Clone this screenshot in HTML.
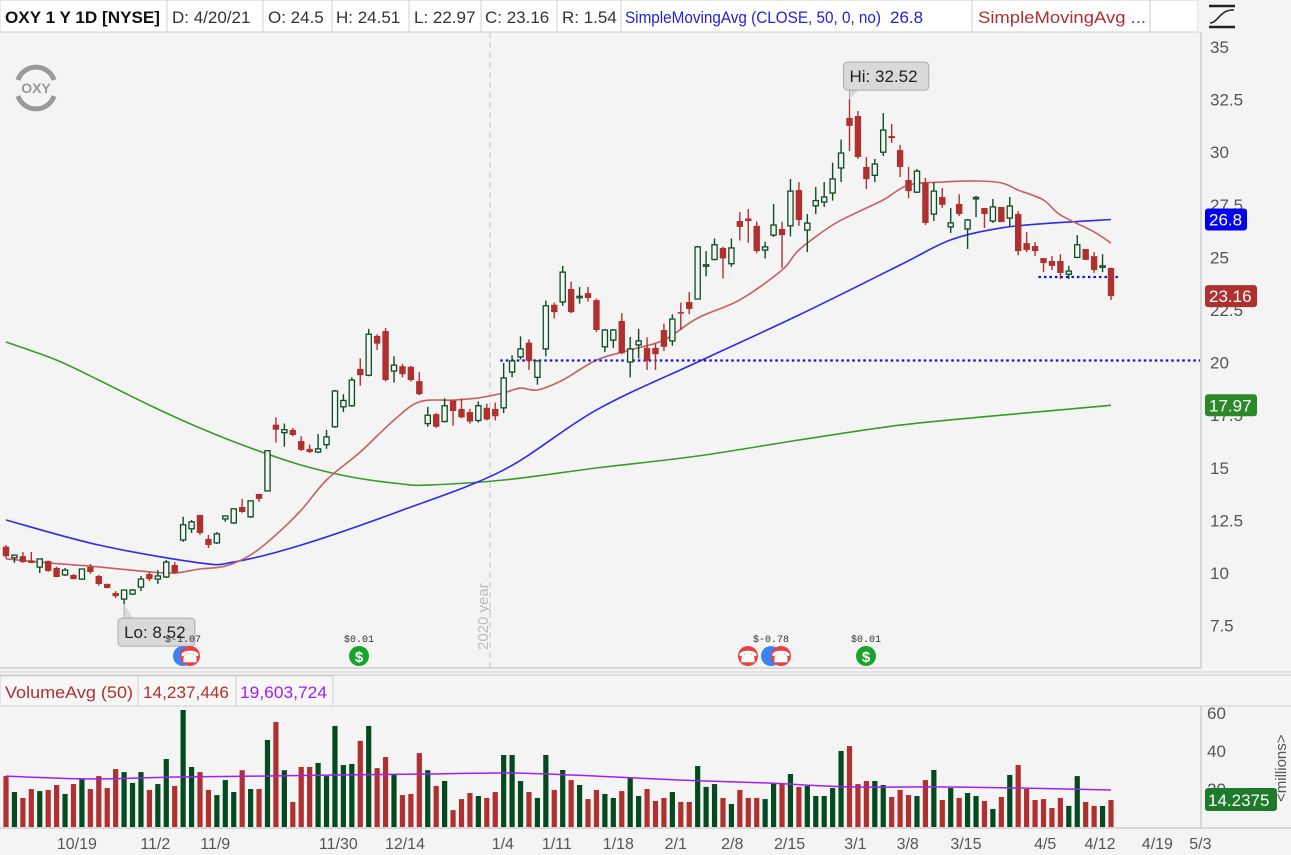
<!DOCTYPE html>
<html><head><meta charset="utf-8">
<style>
html,body{margin:0;padding:0;background:#f4f4f4;}
svg{display:block;font-family:"Liberation Sans",sans-serif;}
</style></head>
<body>
<svg id="chart" width="1291" height="855" viewBox="0 0 1291 855">
  <rect x="0" y="0" width="1291" height="855" fill="#f4f4f4"/>
  <g>
    <rect x="0" y="0" width="1198" height="32" fill="#ffffff" stroke="#cfcfcf"/>
    <rect x="1198" y="0" width="93" height="32" fill="#f4f4f4"/>
    <text x="5" y="23" font-size="17" font-weight="bold" fill="#111" textLength="155" lengthAdjust="spacingAndGlyphs">OXY 1 Y 1D [NYSE]</text>
    <line x1="167" y1="0" x2="167" y2="32" stroke="#cfcfcf"/>
    <text x="172" y="23" font-size="17" fill="#333">D: 4/20/21</text>
    <line x1="263" y1="0" x2="263" y2="32" stroke="#cfcfcf"/>
    <text x="268" y="23" font-size="17" fill="#333">O: 24.5</text>
    <line x1="332" y1="0" x2="332" y2="32" stroke="#cfcfcf"/>
    <text x="336" y="23" font-size="17" fill="#333">H: 24.51</text>
    <line x1="409" y1="0" x2="409" y2="32" stroke="#cfcfcf"/>
    <text x="414" y="23" font-size="17" fill="#333">L: 22.97</text>
    <line x1="481" y1="0" x2="481" y2="32" stroke="#cfcfcf"/>
    <text x="485" y="23" font-size="17" fill="#333">C: 23.16</text>
    <line x1="557" y1="0" x2="557" y2="32" stroke="#cfcfcf"/>
    <text x="562" y="23" font-size="17" fill="#333">R: 1.54</text>
    <line x1="621" y1="0" x2="621" y2="32" stroke="#cfcfcf"/>
    <text x="625" y="23" font-size="17" fill="#2222dd" textLength="256" lengthAdjust="spacingAndGlyphs">SimpleMovingAvg (CLOSE, 50, 0, no)</text>
    <text x="890" y="23" font-size="17" fill="#2222dd">26.8</text>
    <line x1="972" y1="0" x2="972" y2="32" stroke="#cfcfcf"/>
    <text x="978" y="23" font-size="17" fill="#b03030" textLength="168" lengthAdjust="spacingAndGlyphs">SimpleMovingAvg ...</text>
    <line x1="1150" y1="0" x2="1150" y2="32" stroke="#cfcfcf"/>
    <g stroke="#222" fill="none">
      <line x1="1209" y1="6" x2="1235" y2="6" stroke-width="2.5"/>
      <line x1="1209" y1="27" x2="1235" y2="27" stroke-width="2.5"/>
      <path d="M1210 23 C1218 23 1220 9 1234 10" stroke-width="1.5"/>
    </g>
  </g>
  <g>
    <path d="M18 80 A19 19 0 0 1 54 80" fill="none" stroke="#999" stroke-width="5"/>
    <path d="M18 96 A19 19 0 0 0 54 96" fill="none" stroke="#999" stroke-width="5"/>
    <text x="36" y="93" font-size="14" font-weight="bold" fill="#999" text-anchor="middle">OXY</text>
  </g>
  <line x1="1201" y1="32" x2="1201" y2="668" stroke="#bdbdbd"/>
  <line x1="0" y1="668" x2="1201" y2="668" stroke="#bdbdbd"/>
  <line x1="490" y1="32" x2="490" y2="668" stroke="#c4c4c4" stroke-dasharray="6,4"/>
  <text transform="translate(488,650) rotate(-90)" font-size="15" fill="#bbb">2020 year</text>
  <g id="price-axis"></g>
  <g id="price-lines"></g>
  <g id="candles"></g>
  <g id="tags"></g>
  <line x1="0" y1="672" x2="1291" y2="672" stroke="#cfcfcf"/>
  <line x1="0" y1="675" x2="1291" y2="675" stroke="#cfcfcf"/>
  <g>
    <rect x="0" y="676" width="333" height="30" fill="#f7f7f7" stroke="#cfcfcf"/>
    <text x="5" y="698" font-size="17" fill="#b03030" textLength="128" lengthAdjust="spacingAndGlyphs">VolumeAvg (50)</text>
    <line x1="138" y1="676" x2="138" y2="706" stroke="#cfcfcf"/>
    <text x="143" y="698" font-size="17" fill="#b03030" textLength="86" lengthAdjust="spacingAndGlyphs">14,237,446</text>
    <line x1="236" y1="676" x2="236" y2="706" stroke="#cfcfcf"/>
    <text x="240" y="698" font-size="17" fill="#a020f0" textLength="87" lengthAdjust="spacingAndGlyphs">19,603,724</text>
  </g>
  <line x1="0" y1="706" x2="1291" y2="706" stroke="#cfcfcf"/>
  <line x1="1201" y1="706" x2="1201" y2="828" stroke="#bdbdbd"/>
  <line x1="0" y1="828" x2="1291" y2="828" stroke="#bdbdbd"/>
  <g id="volume"></g>
  <g id="vol-axis"></g>
  <text transform="translate(1286,802) rotate(-90)" font-size="15" fill="#555">&lt;millions&gt;</text>
  <g id="x-axis"></g>
</svg>
<script>
const open  = [11.25,10.72,10.8,10.6,10.28,10.57,10.24,9.91,9.91,9.71,10.29,9.86,9.48,9.05,8.76,9.0,9.33,9.95,9.71,9.81,10.38,11.57,12.1,12.76,11.62,11.43,12.57,12.38,13.14,12.67,13.76,13.9,17.05,16.67,16.8,16.27,15.9,15.75,16.1,16.95,17.9,17.95,19.7,19.4,21.27,21.5,19.6,19.83,19.8,19.12,17.1,17.55,17.2,18.2,17.8,17.65,17.25,17.85,17.8,17.85,19.55,20.27,20.95,19.3,20.65,22.75,22.88,23.5,23.1,23.3,22.97,20.75,21.07,21.98,20.03,20.84,20.7,20.7,21.55,21.03,22.4,22.88,23.02,24.6,24.9,25.45,24.7,26.73,26.85,26.5,25.35,26.06,26.35,26.5,28.2,26.3,27.45,27.63,28.06,29.25,31.63,31.72,29.3,28.9,30.0,30.77,30.1,28.68,28.1,28.54,27.06,27.87,26.45,27.54,26.35,27.8,27.35,26.73,27.4,26.87,27.06,25.68,25.54,24.97,24.83,24.83,24.2,25.0,25.4,25.06,24.55,24.5];
const high  = [11.33,10.86,11.0,11.0,10.67,10.6,10.3,10.24,9.95,10.2,10.43,9.9,9.5,9.14,9.2,9.24,9.86,10.05,10.14,10.62,10.52,12.67,12.52,12.76,11.81,11.95,12.71,13.05,13.52,13.43,13.76,15.85,17.4,17.1,16.9,16.5,16.1,16.6,16.8,18.7,18.5,19.3,20.2,21.6,21.35,21.65,20.3,19.95,19.85,19.55,17.9,17.6,18.3,18.2,18.3,17.8,18.15,18.05,18.1,19.98,20.35,21.25,21.1,20.08,22.95,22.85,24.6,23.85,23.6,23.6,23.05,21.6,21.6,22.35,21.22,21.6,21.2,20.9,21.85,22.3,22.85,23.35,25.55,25.3,25.9,25.5,25.9,27.15,27.3,26.7,25.75,27.54,26.7,28.73,28.58,27.06,28.35,28.58,29.5,30.6,32.52,31.96,29.77,29.68,31.86,31.34,30.34,29.3,29.2,28.78,28.58,28.3,27.35,28.0,26.83,27.92,27.35,27.78,27.4,27.87,27.2,26.2,25.73,24.97,25.06,25.15,24.6,26.06,25.4,25.25,25.15,24.51];
const low   = [10.7,10.48,10.48,10.48,10.0,10.05,9.8,9.86,9.7,9.68,9.96,9.4,9.27,8.81,8.52,8.95,9.14,9.62,9.48,9.76,9.95,11.48,11.9,11.81,11.19,11.38,12.43,12.33,12.86,12.62,13.38,13.9,16.2,16.0,16.5,15.8,15.7,15.7,15.9,16.9,17.65,17.9,18.9,19.35,20.6,19.1,19.05,19.3,19.1,18.45,16.95,16.9,17.15,17.0,17.35,17.1,17.15,17.25,17.25,17.6,19.3,20.15,19.65,18.95,20.3,22.1,22.7,22.35,22.8,22.9,21.45,20.5,20.7,20.4,19.3,20.2,19.65,19.65,20.55,20.8,21.55,22.3,23.0,24.1,24.85,24.0,24.55,25.8,25.7,25.2,24.95,25.97,24.5,26.0,26.5,25.25,27.06,27.4,27.7,28.58,30.05,29.68,28.25,28.58,29.82,30.44,28.82,27.82,28.06,26.54,26.73,27.35,26.16,26.97,25.4,26.92,26.4,26.64,26.68,26.45,25.1,25.25,25.06,24.3,24.4,23.97,23.97,24.97,24.88,24.26,24.3,22.97];
const close = [10.8,10.85,10.52,10.48,10.67,10.1,9.81,10.14,9.71,10.19,10.05,9.48,9.29,8.9,9.19,9.19,9.71,9.71,9.86,10.52,10.0,12.29,12.43,11.9,11.33,11.86,12.71,13.05,12.9,13.43,13.52,15.81,16.81,16.81,16.56,15.85,15.75,15.9,16.47,18.65,18.2,19.17,19.4,21.35,20.9,19.17,19.88,19.45,19.17,18.5,17.5,16.95,17.95,17.7,17.4,17.2,17.95,17.3,17.45,19.27,20.08,20.65,20.08,20.08,22.7,22.4,24.3,22.4,23.15,23.07,21.55,21.55,21.55,20.45,20.65,21.03,20.08,20.4,20.75,22.07,22.35,22.55,25.5,24.65,25.6,24.95,25.45,26.45,26.73,25.3,25.5,26.54,26.06,28.15,26.78,26.63,27.7,27.87,28.73,29.96,31.25,29.77,28.72,29.44,31.05,30.67,29.3,28.15,29.1,26.64,28.15,27.5,26.64,27.06,26.78,27.85,27.06,27.4,26.68,27.44,25.3,25.35,25.3,24.73,24.6,24.26,24.35,25.6,24.88,24.4,24.6,23.16];
const volume = [26.8,18.4,15.3,20,18.9,19.5,22.1,17.4,22.6,25.3,20,26.8,20.5,30.5,28.9,23.2,28.9,19.5,22.6,35.8,21.6,61.6,31.6,28.9,19.5,16.8,24.7,18.4,29.9,20,20,45.8,55.3,29.9,13.2,31.6,31.6,33.7,26.8,53.2,32.6,33.2,45.3,53.2,31,36.8,27.4,16.8,17.4,38.9,29.9,21.6,24.2,8.9,14.7,17.9,16.3,15.3,18.4,
  37.9,37.9,24.2,18.4,15.3,37.9,19.5,30,24.7,22.1,14.7,19.5,17.4,15.3,18.9,25.8,16.3,20,13.7,15.3,18.4,13.2,13.2,32.1,21.1,22.6,15.3,12.1,19.5,15.3,15.3,14.7,23.2,22.6,27.9,21.1,
  21.6,16.3,16.3,20.5,40,42.6,22.6,24.2,24.2,22.1,15.8,19.5,16.8,16.3,24.7,30,14.2,20.5,15.3,17.9,16.3,13.7,9.5,15.8,27.4,32.6,20,14.2,14.7,10,15.3,11.1,26.8,13.2,11.1,11.1,14.2];
const volAvgIdx = [0,10,20,30,40,50,60,70,80,90,100,110,120,131];
const volAvgVal = [26.8,25.3,26.3,26.8,27.4,27.9,28.4,26.8,24.7,23.2,21.1,21.1,20.5,19.5];
const sma50Idx = [0,11,23,27,35,47,59,70,82,94,106,112,118,124,131];
const sma50Val = [12.52,11.33,10.48,10.52,11.33,12.99,14.9,17.75,20.03,22.26,24.64,25.83,26.4,26.63,26.8];
const sma20Idx = [0,5,11,17,20,23,26,29,32,35,38,42,46,49,53,56,59,61,63,66,70,74,78,82,87,92,94,98,101,104,107,111,115,118,120,123,125,129,131];
const sma20Val = [10.67,10.48,10.29,10.05,10.0,10.19,10.33,10.86,11.81,12.99,14.42,15.75,17.27,18.13,18.22,18.32,18.56,18.79,18.7,19.17,20.12,20.6,21.07,22.12,22.98,24.4,25.35,26.54,27.16,27.73,28.44,28.58,28.63,28.54,28.2,27.73,27.02,26.21,25.68];
const sma200Idx = [0,6,11,17,23,29,35,41,47,50,59,70,82,94,106,118,131];
const sma200Val = [20.98,20.12,19.17,17.98,16.89,15.94,15.13,14.56,14.23,14.18,14.42,14.99,15.56,16.32,17.03,17.5,17.97];
const priceTicks = [35,32.5,30,27.5,25,22.5,20,17.5,15,12.5,10,7.5];
const volTicks = [60,40,20];
const xTickLabels = ["10/19","11/2","11/9","11/30","12/14","1/4","1/11","1/18","2/1","2/8","2/15","3/1","3/8","3/15","4/5","4/12","4/19","5/3"];
const xTickIdx = [8.4,17.7,24.8,39.4,47.3,58.9,65.3,72.6,79.4,86.1,92.9,100.7,106.9,113.8,123.2,129.7,136.5,141.6];
const supportLevels = [20.1, 24.07];
const supportStartIdx = [58.6, 122.4];
const supportEndIdx = [141.6, 132];

const NS = "http://www.w3.org/2000/svg";
const xOf = i => 6 + i * 8.435;
const yP = v => 47 + (35 - v) * 21.04;
const yV = v => 827 - v * 1.9;
const GREEN = "#0b4d22", RED = "#b03030";
function mk(tag, attrs, parent) {
  const e = document.createElementNS(NS, tag);
  for (const k in attrs) e.setAttribute(k, attrs[k]);
  parent.appendChild(e);
  return e;
}
function smoothPath(pts) {
  let d = "M" + pts[0][0].toFixed(1) + " " + pts[0][1].toFixed(1);
  for (let k = 0; k < pts.length - 1; k++) {
    const p0 = pts[Math.max(0, k - 1)], p1 = pts[k], p2 = pts[k + 1], p3 = pts[Math.min(pts.length - 1, k + 2)];
    const c1 = [p1[0] + (p2[0] - p0[0]) / 6, p1[1] + (p2[1] - p0[1]) / 6];
    const c2 = [p2[0] - (p3[0] - p1[0]) / 6, p2[1] - (p3[1] - p1[1]) / 6];
    d += " C" + c1[0].toFixed(1) + " " + c1[1].toFixed(1) + " " + c2[0].toFixed(1) + " " + c2[1].toFixed(1) + " " + p2[0].toFixed(1) + " " + p2[1].toFixed(1);
  }
  return d;
}

const pAxis = document.getElementById("price-axis");
priceTicks.forEach(t => {
  const tx = mk("text", {x: 1210, y: yP(t) + 6, "font-size": 17, fill: "#555"}, pAxis);
  
  
  tx.textContent = String(t);
});

const pl = document.getElementById("price-lines");
function line(idx, val, color, name) {
  const pts = idx.map((i, k) => [xOf(i), yP(val[k])]);
  const p = mk("path", {d: smoothPath(pts), fill: "none", stroke: color, "stroke-width": 1.6}, pl);
  
  
}
line(sma200Idx, sma200Val, "#3a9a2a", "sma200-line");
line(sma50Idx, sma50Val, "#2b2bee", "sma50-line");
line(sma20Idx, sma20Val, "#c86060", "sma20-line");

supportLevels.forEach((lv, k) => {
  const s = mk("line", {x1: xOf(supportStartIdx[k]), x2: Math.min(1200, xOf(supportEndIdx[k])), y1: yP(lv), y2: yP(lv), stroke: "#1111dd", "stroke-width": 2.2, "stroke-dasharray": "2.5,3"}, pl);
  
  
});

const cg = document.getElementById("candles");
for (let i = 0; i < close.length; i++) {
  const up = close[i] >= open[i];
  const col = up ? GREEN : RED;
  const x = xOf(i);
  const g = mk("g", {}, cg);
  
  
  mk("line", {x1: x, x2: x, y1: yP(high[i]), y2: yP(low[i]), stroke: col, "stroke-width": 1.4}, g);
  const top = yP(Math.max(open[i], close[i])), bot = yP(Math.min(open[i], close[i]));
  const h = Math.max(1.5, bot - top);
  if (up) mk("rect", {x: x - 2.6, y: top, width: 5.2, height: h, fill: "#f4f4f4", stroke: col, "stroke-width": 1.3}, g);
  else mk("rect", {x: x - 3.2, y: top, width: 6.4, height: h, fill: col}, g);
}

const tg = document.getElementById("tags");
function tag(v, color, w, name) {
  const g = mk("g", {}, tg);
  
  
  mk("rect", {x: 1205, y: yP(v) - 11, width: w, height: 22, rx: 3, fill: color}, g);
  const t = mk("text", {x: 1209, y: yP(v) + 6, "font-size": 17, fill: "#fff"}, g);
  t.textContent = String(v);
}
tag(sma50Val[sma50Val.length - 1], "#0000ee", 42, "sma50-value-tag");
tag(close[close.length - 1], "#b03030", 52, "last-price-tag");
tag(sma200Val[sma200Val.length - 1], "#2a8a2a", 52, "sma200-value-tag");

function callout(i, v, txt, above, name) {
  const g = mk("g", {}, tg);
  
  
  const x = xOf(i), y = yP(v);
  const bx = x - 6, by = above ? y - 37 : y + 14;
  mk("rect", {x: bx, y: by, width: txt.length * 8.6 + 8, height: 28, rx: 4, fill: "#d9d9d9", stroke: "#aaa"}, g);
  const py = above ? by + 28 : by;
  mk("path", {d: `M${x} ${y} L${x} ${py} L${x + 9} ${py}`, fill: "#d9d9d9", stroke: "#aaa"}, g);
  const t = mk("text", {x: bx + 6, y: by + 20, "font-size": 17, fill: "#222"}, g);
  t.textContent = txt;
}
const hiI = high.indexOf(Math.max(...high)), loI = low.indexOf(Math.min(...low));
callout(hiI, high[hiI], "Hi: " + high[hiI], true, "high-callout");
callout(loI, low[loI], "Lo: " + low[loI], false, "low-callout");

function icon(x, color, sym, label) {
  const g = mk("g", {}, tg);
  
  
  mk("circle", {cx: x, cy: 656, r: 10, fill: color}, g);
  const t = mk("text", {x: x, y: 662, "font-size": 15, "font-weight": "bold", fill: "#fff", "text-anchor": "middle"}, g);
  t.textContent = sym;
  if (label) {
    const l = mk("text", {x: x, y: 642, "font-size": 10, fill: "#333", "text-anchor": "middle", "font-family": "Liberation Mono, monospace"}, g);
    l.textContent = label;
  }
}
icon(183, "#3b82f6", "", "$-1.07");
icon(190, "#e84040", "☎", "");
icon(359, "#1aa32a", "$", "$0.01");
icon(748, "#e84040", "☎", "");
icon(771, "#3b82f6", "", "$-0.78");
icon(781, "#e84040", "☎", "");
icon(866, "#1aa32a", "$", "$0.01");

const vg = document.getElementById("volume");
volume.forEach((v, i) => {
  const up = close[i] >= open[i];
  const r = mk("rect", {x: xOf(i) - 2.6, y: yV(v), width: 5.2, height: 827 - yV(v), fill: up ? "#034a1e" : "#b03030"}, vg);
  
  
});
const vpts = volAvgIdx.map((i, k) => [xOf(i), yV(volAvgVal[k])]);
const va = mk("path", {d: smoothPath(vpts), fill: "none", stroke: "#a020f0", "stroke-width": 1.5}, vg);



const vAx = document.getElementById("vol-axis");
volTicks.forEach(t => {
  const tx = mk("text", {x: 1207, y: yV(t) + 6, "font-size": 17, fill: "#555"}, vAx);
  
  
  tx.textContent = String(t);
});
const lastVol = mk("g", {}, vAx);


mk("rect", {x: 1205, y: 788, width: 72, height: 23, rx: 3, fill: "#1d7a2a"}, lastVol);
const lvt = mk("text", {x: 1208, y: 806, "font-size": 17, fill: "#fff"}, lastVol);
lvt.textContent = "14.2375";

const xa = document.getElementById("x-axis");
xTickLabels.forEach((lab, k) => {
  const t = mk("text", {x: xOf(xTickIdx[k]), y: 849, "font-size": 16, fill: "#555", "text-anchor": "middle"}, xa);
  
  
  t.textContent = lab;
});
</script>
</body></html>
